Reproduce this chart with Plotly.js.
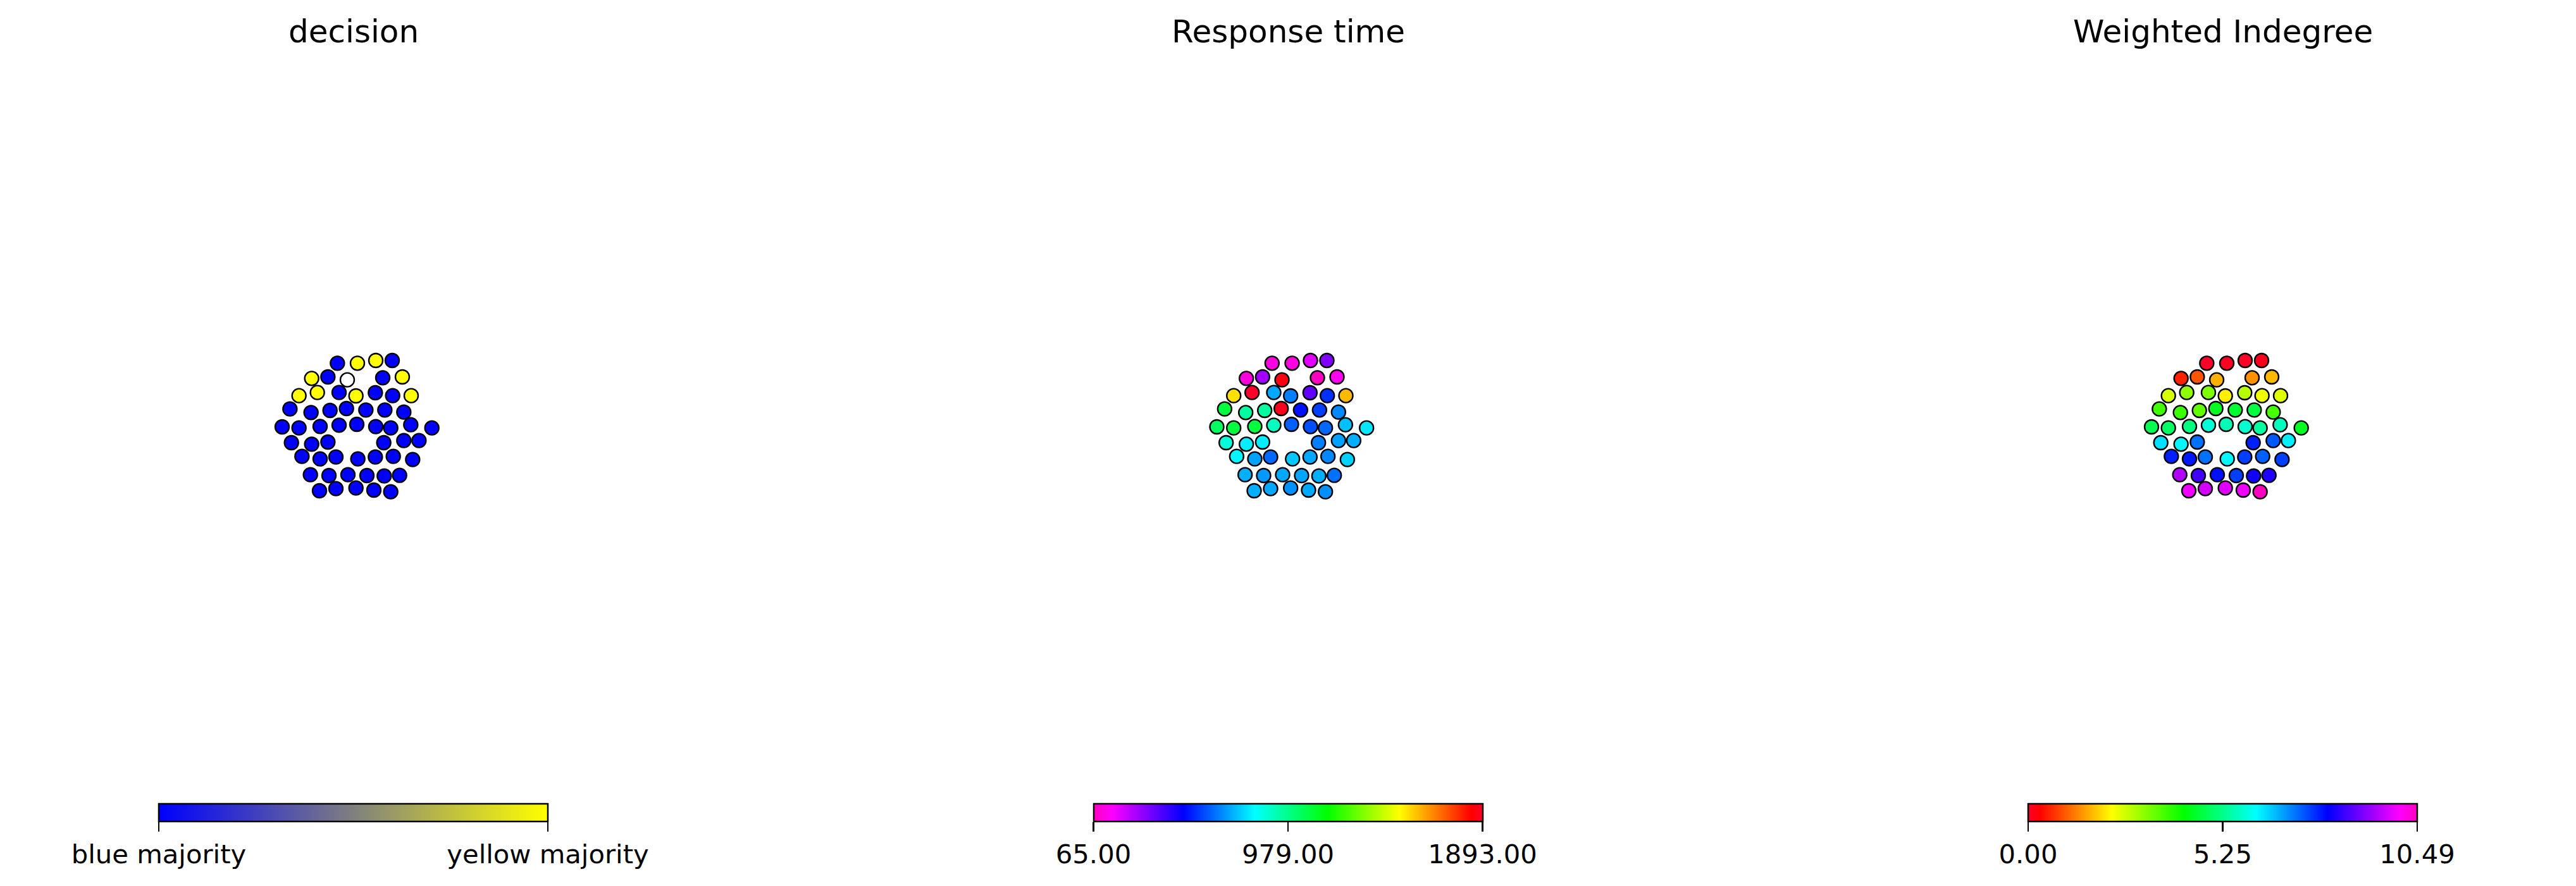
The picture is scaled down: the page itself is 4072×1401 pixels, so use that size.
<!DOCTYPE html>
<html>
<head>
<meta charset="utf-8">
<script src="https://cdn.plot.ly/plotly-3.0.1.min.js"></script>
<style>html,body{margin:0;padding:0;background:#fff;}#chart{width:4072px;height:1401px;}</style>
</head>
<body>
<div id="chart"></div>
<script>
// Node layout coordinates (shared network layout, y grows downward)
const posX = [340,435,522,600, 218,295,387,555,648, 158,245,348,428,520,602,690,
  115,215,305,383,475,565,655, 78,158,258,348,432,522,593,688,788,
  122,218,295,560,655,727, 172,258,333,437,520,605,697,
  212,300,390,480,562,635, 255,333,428,513,593];
const posY = [103,103,90,90, 175,168,182,172,168, 257,242,242,258,243,257,257,
  320,337,327,318,325,325,335, 405,410,403,397,393,404,410,395,410,
  480,487,477,480,470,470, 545,557,548,557,548,545,560,
  632,636,632,636,638,635, 708,698,695,705,713];

// decision: 0 = blue majority, 1 = yellow majority, null = no decision
const decision = [0,1,1,0, 1,0,null,0,1, 1,1,0,1,0,0,1,
  0,0,0,0,0,0,0, 0,0,0,0,0,0,0,0,0,
  0,0,0,0,0,0, 0,0,0,0,0,0,0,
  0,0,0,0,0,0, 0,0,0,0,0];

const responseTime = [109,110,189,317, 105,273,1860,65,129, 1540,1893,707,654,359,549,1591,
  1078,948,950,1875,505,569,665, 1034,1078,1080,906,612,590,622,738,791,
  873,802,800,654,698,718, 811,698,622,749,707,665,762,
  718,687,707,705,716,633, 718,707,676,708,676];

const indegree = [0.0,0.05,0.02,0.1, 0.56,0.96,1.66,1.41,1.71, 2.55,3.11,3.23,2.14,2.80,2.37,2.49,
  3.71,3.75,3.47,4.44,4.57,4.68,3.65, 4.81,4.93,5.17,5.85,5.60,5.79,5.42,5.66,4.44,
  6.38,6.20,7.23,7.84,7.41,6.26, 7.84,7.90,7.23,6.20,7.60,7.36,7.60,
  9.41,8.56,7.96,7.60,8.19,8.32, 9.89,9.66,9.78,9.89,10.49];

const titles = ["decision", "Response time", "Weighted Indegree"];
const decisionTickText = ["blue majority", "yellow majority"];
const rtTicks = [65, 979, 1893];
const rtTickText = ["65.00", "979.00", "1893.00"];
const inTicks = [0, 5.245, 10.49];
const inTickText = ["0.00", "5.25", "10.49"];

const W = 4072, H = 1401;
const FONT = "DejaVu Sans, Liberation Sans, sans-serif";

const gistRainbow = [[0,'rgb(255,0,41)'],[0.03,'rgb(255,0,0)'],[0.215,'rgb(255,255,0)'],[0.4,'rgb(0,255,0)'],
  [0.586,'rgb(0,255,255)'],[0.77,'rgb(0,0,255)'],[0.954,'rgb(255,0,255)'],[1,'rgb(255,0,191)']];
const gistRainbowR = gistRainbow.slice().reverse().map(p => [+(1 - p[0]).toFixed(4), p[1]]);
const blueYellow = [[0,'rgb(0,0,255)'],[1,'rgb(255,255,0)']];

const centers = [558.5, 2036, 3513.5];
const half = 500;
const xRange = [3*(-half + 138.5), 3*(half + 138.5)];
const yRange = [3*(H - 540), 3*(0 - 540)]; // reversed

const cbTop = 1271;
function cb(k, tickvals, ticktext) {
  return {
    orientation: 'h', x: centers[k]/W, xanchor: 'center', y: 1 - cbTop/H, yanchor: 'top',
    len: 615, lenmode: 'pixels', thickness: 28, thicknessmode: 'pixels',
    outlinewidth: 2.5, outlinecolor: '#000', xpad: 0, ypad: 0,
    ticks: 'outside', ticklen: 15, tickwidth: 2.5, tickcolor: '#000',
    tickvals: tickvals, ticktext: ticktext, tickmode: 'array',
    tickfont: {family: FONT, size: 41.7, color: '#000'}
  };
}

const markerBase = {size: 22, line: {color: '#000', width: 2.4}};

const idxHave = [], idxNull = [];
decision.forEach((d, i) => (d === null ? idxNull : idxHave).push(i));

const traces = [
  {type: 'scatter', mode: 'markers', xaxis: 'x', yaxis: 'y', hoverinfo: 'skip',
   x: idxHave.map(i => posX[i]), y: idxHave.map(i => posY[i]),
   marker: Object.assign({}, markerBase, {color: idxHave.map(i => decision[i]), colorscale: blueYellow,
     cmin: 0, cmax: 1, showscale: true, colorbar: cb(0, [0, 1], decisionTickText)})},
  {type: 'scatter', mode: 'markers', xaxis: 'x', yaxis: 'y', hoverinfo: 'skip',
   x: idxNull.map(i => posX[i]), y: idxNull.map(i => posY[i]),
   marker: Object.assign({}, markerBase, {color: '#ffffff'})},
  {type: 'scatter', mode: 'markers', xaxis: 'x2', yaxis: 'y2', hoverinfo: 'skip',
   x: posX, y: posY,
   marker: Object.assign({}, markerBase, {color: responseTime, colorscale: gistRainbowR,
     cmin: 65, cmax: 1893, showscale: true, colorbar: cb(1, rtTicks, rtTickText)})},
  {type: 'scatter', mode: 'markers', xaxis: 'x3', yaxis: 'y3', hoverinfo: 'skip',
   x: posX, y: posY,
   marker: Object.assign({}, markerBase, {color: indegree, colorscale: gistRainbow,
     cmin: 0, cmax: 10.49, showscale: true, colorbar: cb(2, inTicks, inTickText)})}
];

const layout = {
  width: W, height: H, margin: {l: 0, r: 0, t: 0, b: 0},
  paper_bgcolor: '#fff', plot_bgcolor: '#fff', showlegend: false,
  font: {family: FONT, color: '#000'},
  annotations: titles.map((t, k) => ({
    text: t, xref: 'paper', yref: 'paper', x: centers[k]/W, y: 1 - 50/H,
    xanchor: 'center', yanchor: 'middle', showarrow: false,
    font: {family: FONT, size: 50, color: '#000'}
  }))
};
['', '2', '3'].forEach((s, k) => {
  const ax = {visible: false, showgrid: false, zeroline: false, fixedrange: true};
  layout['xaxis' + s] = Object.assign({}, ax, {range: xRange.slice(),
    domain: [(centers[k] - half)/W, (centers[k] + half)/W], anchor: 'y' + s});
  layout['yaxis' + s] = Object.assign({}, ax, {range: yRange.slice(), domain: [0, 1], anchor: 'x' + s});
});

Plotly.newPlot('chart', traces, layout, {staticPlot: true, displayModeBar: false});
</script>
</body>
</html>
